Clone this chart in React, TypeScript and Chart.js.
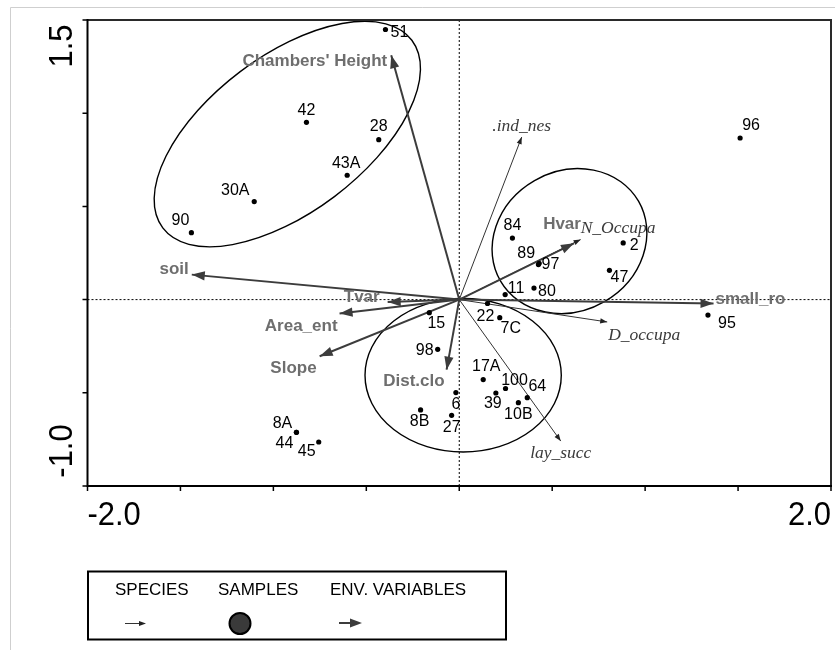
import React, { useEffect, useRef } from 'react';
import { Chart, registerables } from 'chart.js';

Chart.register(...registerables);

// ---------- data ----------
const sampleNames = ['51', '42', '28', '43A', '30A', '90', '96', '84', '2', '89', '97', '47', '11', '80', '95', '22', '7C', '15', '98', '17A', '100', '64', '39', '10B', '6', '27', '8B', '8A', '44', '45'];
const sampleX = [-0.397, -0.822, -0.433, -0.603, -1.103, -1.441, 1.511, 0.286, 0.882, 0.43, 0.426, 0.808, 0.247, 0.402, 1.338, 0.152, 0.218, -0.161, -0.116, 0.129, 0.249, 0.366, 0.197, 0.318, -0.018, -0.041, -0.208, -0.876, -0.876, -0.756];
const sampleY = [1.449, 0.951, 0.858, 0.667, 0.526, 0.359, 0.867, 0.33, 0.304, 0.195, 0.188, 0.157, 0.027, 0.062, -0.083, -0.021, -0.097, -0.07, -0.267, -0.429, -0.477, -0.526, -0.501, -0.553, -0.499, -0.621, -0.592, -0.712, -0.712, -0.764];

const envNames = ["Chambers' Height", 'soil', 'Tvar', 'Area_ent', 'Slope', 'Dist.clo', 'Hvar', 'small_ro'];
const envX = [-0.366, -1.439, -0.385, -0.644, -0.751, -0.068, 0.617, 1.368];
const envY = [1.311, 0.134, -0.013, -0.075, -0.304, -0.376, 0.302, -0.021];

const speciesNames = ['.ind_nes', 'N_Occupa', 'D_occupa', 'lay_succ'];
const speciesX = [0.336, 0.653, 0.796, 0.546];
const speciesY = [0.872, 0.322, -0.12, -0.759];

const ellipseCX = [-0.925, 0.593, 0.021];
const ellipseCY = [0.888, 0.314, -0.406];
const ellipseA = [0.839, 0.429, 0.528];
const ellipseB = [0.421, 0.376, 0.413];
const ellipseAngle = [37, 30, 0];

const xTickValues = [-2, -1.5, -1, -0.5, 0, 0.5, 1, 1.5, 2];
const yTickValues = [-1, -0.5, 0, 0.5, 1, 1.5];
const xTickLabels = ['-2.0', '2.0'];
const yTickLabels = ['1.5', '-1.0'];

const legendLabels = ['SPECIES', 'SAMPLES', 'ENV. VARIABLES'];

// ---------- label styling (pixel offsets from the mark) ----------
const sampleLabelOffsets: [number, number][] = [
  [14, 3], [0, -12], [0, -13], [-1, -12], [-19, -11], [-11, -12], [11, -12], [0, -12], [11, 3], [-13, -10],
  [12, 0], [10, 7], [11, -6], [13, 4], [19, 9], [-2, 13], [11, 11], [7, 11], [-13, 1], [3, -13],
  [9, -8], [10, -11], [-3, 11], [0, 12], [0, 12], [0, 12], [-1, 12], [-14, -9], [-12, 11], [-12, 10],
];
const envLabelStyle: [number, number, CanvasTextAlign][] = [
  [-4, 6, 'right'], [-3, -5, 'right'], [-8, -5, 'right'], [-2, 13, 'right'],
  [-3, 12, 'right'], [-2, 12, 'right'], [7, -19, 'right'], [2, -4, 'left'],
];
const speciesLabelStyle: [number, number, CanvasTextAlign][] = [
  [0, -11, 'center'], [0, -11, 'left'], [1, 13, 'left'], [0, 12, 'center'],
];

const SANS = '"Liberation Sans", Arial, Helvetica, sans-serif';
const SERIF = '"Liberation Serif", "Times New Roman", serif';

function arrowHead(ctx: CanvasRenderingContext2D, x0: number, y0: number, x1: number, y1: number, len: number, hw: number, color: string) {
  const ang = Math.atan2(y1 - y0, x1 - x0);
  const bx = x1 - len * Math.cos(ang);
  const by = y1 - len * Math.sin(ang);
  ctx.fillStyle = color;
  ctx.beginPath();
  ctx.moveTo(x1, y1);
  ctx.lineTo(bx + hw * Math.sin(ang), by - hw * Math.cos(ang));
  ctx.lineTo(bx - hw * Math.sin(ang), by + hw * Math.cos(ang));
  ctx.closePath();
  ctx.fill();
}

const biplotPlugin = {
  id: 'biplot',
  beforeDatasetsDraw(chart: any) {
    const { ctx, chartArea, scales } = chart;
    const { left, right, top, bottom } = chartArea;
    const xs = scales.x;
    const ys = scales.y;
    ctx.save();
    // page frame
    ctx.strokeStyle = '#cfcfcf';
    ctx.lineWidth = 1;
    ctx.beginPath();
    ctx.moveTo(10.5, 650);
    ctx.lineTo(10.5, 7.5);
    ctx.lineTo(835, 7.5);
    ctx.stroke();
    // dotted zero lines
    const x0 = xs.getPixelForValue(0);
    const y0 = ys.getPixelForValue(0);
    ctx.strokeStyle = '#000';
    ctx.lineWidth = 1;
    ctx.setLineDash([2, 2]);
    ctx.beginPath();
    ctx.moveTo(x0, top);
    ctx.lineTo(x0, bottom);
    ctx.moveTo(left, y0);
    ctx.lineTo(right, y0);
    ctx.stroke();
    ctx.setLineDash([]);
    // ellipses
    ctx.strokeStyle = '#000';
    ctx.lineWidth = 1.4;
    for (let i = 0; i < ellipseCX.length; i++) {
      const cx = xs.getPixelForValue(ellipseCX[i]);
      const cy = ys.getPixelForValue(ellipseCY[i]);
      const rx = Math.abs(xs.getPixelForValue(ellipseA[i]) - xs.getPixelForValue(0));
      const ry = Math.abs(xs.getPixelForValue(ellipseB[i]) - xs.getPixelForValue(0));
      ctx.beginPath();
      ctx.ellipse(cx, cy, rx, ry, (-ellipseAngle[i] * Math.PI) / 180, 0, Math.PI * 2);
      ctx.stroke();
    }
    ctx.restore();
  },
  afterDatasetsDraw(chart: any) {
    const { ctx, chartArea, scales } = chart;
    const { left, right, top, bottom } = chartArea;
    const xs = scales.x;
    const ys = scales.y;
    const ox = xs.getPixelForValue(0);
    const oy = ys.getPixelForValue(0);
    ctx.save();
    // species arrowheads + labels
    ctx.font = `italic 17.5px ${SERIF}`;
    ctx.textBaseline = 'middle';
    for (let i = 0; i < speciesNames.length; i++) {
      const tx = xs.getPixelForValue(speciesX[i]);
      const ty = ys.getPixelForValue(speciesY[i]);
      arrowHead(ctx, ox, oy, tx, ty, 7, 2.6, '#222');
      const [dx, dy, al] = speciesLabelStyle[i];
      ctx.fillStyle = '#3a3a3a';
      ctx.textAlign = al;
      ctx.fillText(speciesNames[i], tx + dx, ty + dy);
    }
    // env arrowheads + labels
    ctx.font = `bold 17px ${SANS}`;
    for (let i = 0; i < envNames.length; i++) {
      const tx = xs.getPixelForValue(envX[i]);
      const ty = ys.getPixelForValue(envY[i]);
      arrowHead(ctx, ox, oy, tx, ty, 13, 4.6, '#3c3c3c');
      const [dx, dy, al] = envLabelStyle[i];
      ctx.fillStyle = '#6e6e6e';
      ctx.textAlign = al;
      ctx.fillText(envNames[i], tx + dx, ty + dy);
    }
    // sample labels
    ctx.font = `16px ${SANS}`;
    ctx.fillStyle = '#000';
    ctx.textAlign = 'center';
    for (let i = 0; i < sampleNames.length; i++) {
      const px = xs.getPixelForValue(sampleX[i]);
      const py = ys.getPixelForValue(sampleY[i]);
      const [dx, dy] = sampleLabelOffsets[i];
      ctx.fillText(sampleNames[i], px + dx, py + dy);
    }
    // frame
    ctx.lineWidth = 2;
    ctx.strokeStyle = '#2a2a2a';
    ctx.beginPath();
    ctx.moveTo(left, top);
    ctx.lineTo(right, top);
    ctx.lineTo(right, bottom);
    ctx.stroke();
    ctx.strokeStyle = '#000';
    ctx.beginPath();
    ctx.moveTo(left, top - 1);
    ctx.lineTo(left, bottom);
    ctx.lineTo(right + 1, bottom);
    ctx.stroke();
    // ticks
    ctx.lineWidth = 1.5;
    ctx.beginPath();
    for (const v of xTickValues) {
      const px = xs.getPixelForValue(v);
      ctx.moveTo(px, bottom);
      ctx.lineTo(px, bottom + 5);
    }
    for (const v of yTickValues) {
      const py = ys.getPixelForValue(v);
      ctx.moveTo(left, py);
      ctx.lineTo(left - 5, py);
    }
    ctx.stroke();
    // tick labels
    ctx.fillStyle = '#000';
    ctx.font = `34px ${SANS}`;
    ctx.textBaseline = 'alphabetic';
    ctx.save();
    ctx.translate(xs.getPixelForValue(-2), bottom + 39);
    ctx.scale(0.91, 1);
    ctx.textAlign = 'left';
    ctx.fillText(xTickLabels[0], 0, 0);
    ctx.restore();
    ctx.save();
    ctx.translate(xs.getPixelForValue(2), bottom + 39);
    ctx.scale(0.91, 1);
    ctx.textAlign = 'right';
    ctx.fillText(xTickLabels[1], 0, 0);
    ctx.restore();
    ctx.save();
    ctx.translate(left - 16, ys.getPixelForValue(1.5) + 26);
    ctx.rotate(-Math.PI / 2);
    ctx.scale(0.91, 1);
    ctx.textAlign = 'center';
    ctx.fillText(yTickLabels[0], 0, 0);
    ctx.restore();
    ctx.save();
    ctx.translate(left - 16, ys.getPixelForValue(-1) - 35);
    ctx.rotate(-Math.PI / 2);
    ctx.scale(0.91, 1);
    ctx.textAlign = 'center';
    ctx.fillText(yTickLabels[1], 0, 0);
    ctx.restore();

    // legend box
    ctx.lineWidth = 2;
    ctx.strokeStyle = '#000';
    ctx.strokeRect(88, 571.5, 418, 68);
    ctx.font = `17px ${SANS}`;
    ctx.fillStyle = '#000';
    ctx.textAlign = 'left';
    ctx.textBaseline = 'middle';
    ctx.fillText(legendLabels[0], 115, 590);
    ctx.fillText(legendLabels[1], 218, 590);
    ctx.fillText(legendLabels[2], 330, 590);
    // species symbol
    ctx.strokeStyle = '#333';
    ctx.lineWidth = 1;
    ctx.beginPath();
    ctx.moveTo(125, 623.5);
    ctx.lineTo(140, 623.5);
    ctx.stroke();
    arrowHead(ctx, 125, 623.5, 146, 623.5, 7, 2.6, '#222');
    // samples symbol
    ctx.beginPath();
    ctx.arc(240, 623.5, 10.5, 0, Math.PI * 2);
    ctx.fillStyle = '#3a3a3a';
    ctx.fill();
    ctx.lineWidth = 2;
    ctx.strokeStyle = '#000';
    ctx.stroke();
    // env symbol
    ctx.strokeStyle = '#3c3c3c';
    ctx.lineWidth = 2;
    ctx.beginPath();
    ctx.moveTo(339, 623);
    ctx.lineTo(352, 623);
    ctx.stroke();
    arrowHead(ctx, 339, 623, 362, 623, 12, 4.6, '#3c3c3c');
    ctx.restore();
  },
};

export default function App() {
  const ref = useRef<HTMLCanvasElement>(null);
  useEffect(() => {
    const canvas = ref.current;
    if (!canvas) return;
    const speciesSets = speciesNames.map((n, i) => ({
      label: n,
      data: [{ x: 0, y: 0 }, { x: speciesX[i], y: speciesY[i] }],
      showLine: true,
      borderColor: '#333',
      borderWidth: 1,
      pointRadius: 0,
      order: 3,
    }));
    const envSets = envNames.map((n, i) => ({
      label: n,
      data: [{ x: 0, y: 0 }, { x: envX[i], y: envY[i] }],
      showLine: true,
      borderColor: '#3c3c3c',
      borderWidth: 2,
      pointRadius: 0,
      order: 2,
    }));
    const samples = {
      label: 'samples',
      data: sampleX.map((x, i) => ({ x, y: sampleY[i] })),
      pointRadius: 2.6,
      pointBackgroundColor: '#000',
      pointBorderWidth: 0,
      showLine: false,
      order: 1,
    };
    const chart = new Chart(canvas, {
      type: 'scatter',
      data: { datasets: [samples, ...envSets, ...speciesSets] as any },
      options: {
        responsive: false,
        animation: false,
        events: [],
        layout: { padding: { left: 87.5, top: 20, right: 2, bottom: 164 } },
        scales: {
          x: { type: 'linear', min: -2, max: 2, display: false },
          y: { type: 'linear', min: -1, max: 1.5, display: false },
        },
        plugins: { legend: { display: false }, tooltip: { enabled: false } },
      },
      plugins: [biplotPlugin],
    });
    return () => chart.destroy();
  }, []);
  return (
    <div style={{ position: 'absolute', left: 0, top: 0, width: 835, height: 650, background: '#fff' }}>
      <canvas ref={ref} width={835} height={650} style={{ width: 835, height: 650, display: 'block' }} />
    </div>
  );
}
